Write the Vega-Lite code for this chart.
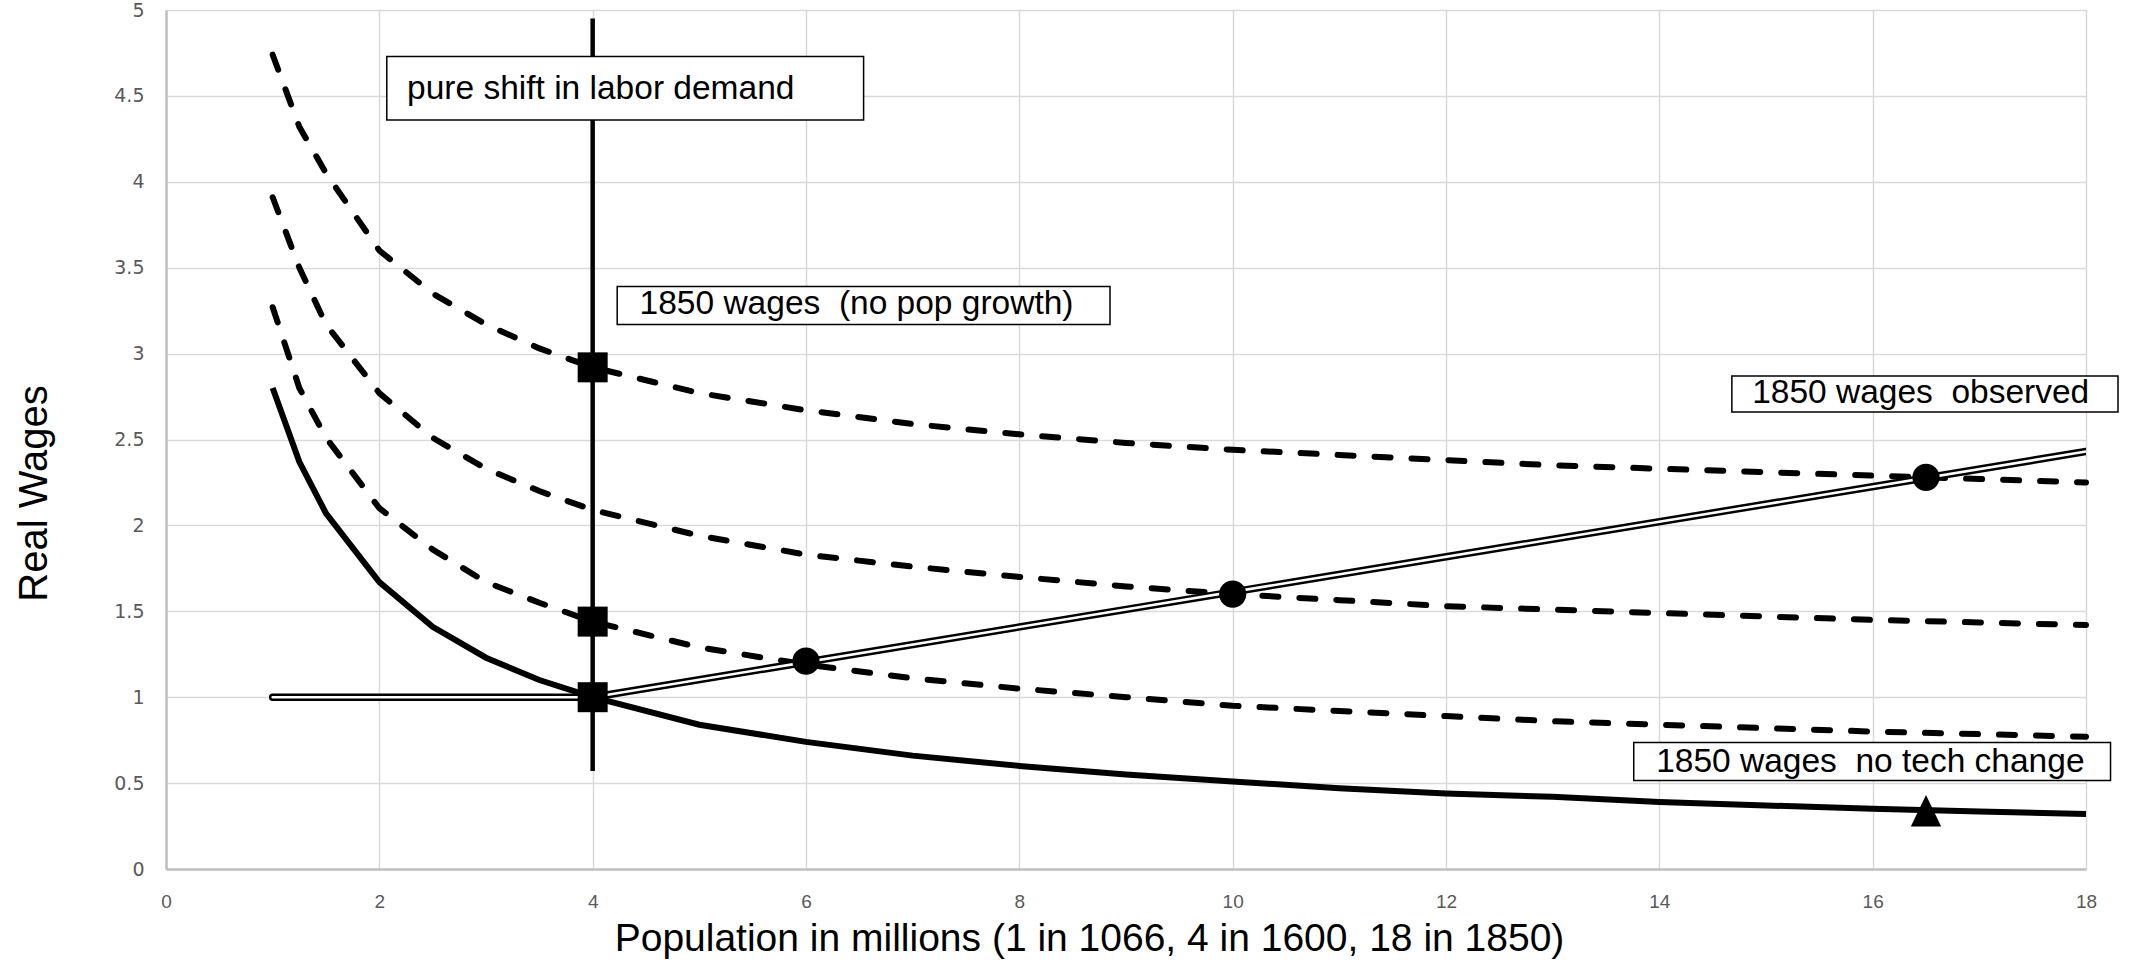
{
  "$schema": "https://vega.github.io/schema/vega-lite/v6.json",
  "width": 1920,
  "height": 859,
  "autosize": {"type": "none"},
  "padding": {"left": 166, "top": 10, "right": 45, "bottom": 91},
  "background": "white",
  "config": {"view": {"stroke": null}},
  "encoding": {
    "x": {
      "field": "x", "type": "quantitative",
      "scale": {"domain": [0, 18], "nice": false, "zero": false},
      "axis": {
        "values": [0, 2, 4, 6, 8, 10, 12, 14, 16, 18],
        "format": "~g",
        "grid": true, "gridColor": "#d9d9d9", "gridWidth": 1.5,
        "domainColor": "#bfbfbf", "domainWidth": 2.5,
        "ticks": false, "labelFlush": false,
        "labelFont": "Liberation Sans Narrow, Liberation Sans", "labelFontSize": 19, "labelColor": "#595959", "labelPadding": 23,
        "title": "Population in millions (1 in 1066, 4 in 1600, 18 in 1850)",
        "titleFont": "Liberation Sans", "titleFontSize": 39, "titleFontWeight": "normal", "titleColor": "#000000",
        "titleX": 923, "titleY": 69, "titleBaseline": "middle", "titleAlign": "center"
      }
    },
    "y": {
      "field": "y", "type": "quantitative",
      "scale": {"domain": [0, 5], "nice": false, "zero": false},
      "axis": {
        "values": [0, 0.5, 1, 1.5, 2, 2.5, 3, 3.5, 4, 4.5, 5],
        "format": "~g",
        "grid": true, "gridColor": "#d9d9d9", "gridWidth": 1.5,
        "domainColor": "#bfbfbf", "domainWidth": 2.5,
        "ticks": false, "labelFlush": false,
        "labelFont": "DejaVu Sans", "labelFontSize": 19, "labelColor": "#595959", "labelPadding": 22,
        "title": "Real Wages",
        "titleFont": "Liberation Sans", "titleFontSize": 40, "titleFontWeight": "normal", "titleColor": "#000000",
        "titleX": -132, "titleY": 483, "titleBaseline": "middle", "titleAlign": "center", "titleAngle": -90
      }
    }
  },
  "layer": [
    {
      "data": {"values": [
        {"s": "top", "x": 1, "y": 4.74}, {"s": "top", "x": 1.25, "y": 4.32}, {"s": "top", "x": 1.5, "y": 4.05}, {"s": "top", "x": 2, "y": 3.6}, {"s": "top", "x": 2.5, "y": 3.35}, {"s": "top", "x": 3, "y": 3.17}, {"s": "top", "x": 3.5, "y": 3.03}, {"s": "top", "x": 4, "y": 2.92}, {"s": "top", "x": 5, "y": 2.77}, {"s": "top", "x": 6, "y": 2.67}, {"s": "top", "x": 7, "y": 2.59}, {"s": "top", "x": 8, "y": 2.53}, {"s": "top", "x": 9, "y": 2.48}, {"s": "top", "x": 10, "y": 2.44}, {"s": "top", "x": 11, "y": 2.41}, {"s": "top", "x": 12, "y": 2.38}, {"s": "top", "x": 13, "y": 2.35}, {"s": "top", "x": 14, "y": 2.33}, {"s": "top", "x": 15, "y": 2.31}, {"s": "top", "x": 16, "y": 2.29}, {"s": "top", "x": 17, "y": 2.27}, {"s": "top", "x": 18, "y": 2.25},
        {"s": "mid", "x": 1, "y": 3.91}, {"s": "mid", "x": 1.25, "y": 3.5}, {"s": "mid", "x": 1.5, "y": 3.17}, {"s": "mid", "x": 2, "y": 2.77}, {"s": "mid", "x": 2.5, "y": 2.51}, {"s": "mid", "x": 3, "y": 2.33}, {"s": "mid", "x": 3.5, "y": 2.2}, {"s": "mid", "x": 4, "y": 2.09}, {"s": "mid", "x": 5, "y": 1.94}, {"s": "mid", "x": 6, "y": 1.83}, {"s": "mid", "x": 7, "y": 1.76}, {"s": "mid", "x": 8, "y": 1.7}, {"s": "mid", "x": 9, "y": 1.645}, {"s": "mid", "x": 10, "y": 1.6}, {"s": "mid", "x": 11, "y": 1.565}, {"s": "mid", "x": 12, "y": 1.53}, {"s": "mid", "x": 13, "y": 1.51}, {"s": "mid", "x": 14, "y": 1.49}, {"s": "mid", "x": 15, "y": 1.47}, {"s": "mid", "x": 16, "y": 1.45}, {"s": "mid", "x": 17, "y": 1.435}, {"s": "mid", "x": 18, "y": 1.42},
        {"s": "low", "x": 1, "y": 3.27}, {"s": "low", "x": 1.25, "y": 2.8}, {"s": "low", "x": 1.5, "y": 2.51}, {"s": "low", "x": 2, "y": 2.1}, {"s": "low", "x": 2.5, "y": 1.86}, {"s": "low", "x": 3, "y": 1.67}, {"s": "low", "x": 3.5, "y": 1.55}, {"s": "low", "x": 4, "y": 1.44}, {"s": "low", "x": 5, "y": 1.29}, {"s": "low", "x": 6, "y": 1.19}, {"s": "low", "x": 7, "y": 1.11}, {"s": "low", "x": 8, "y": 1.05}, {"s": "low", "x": 9, "y": 1.0}, {"s": "low", "x": 10, "y": 0.95}, {"s": "low", "x": 11, "y": 0.92}, {"s": "low", "x": 12, "y": 0.89}, {"s": "low", "x": 13, "y": 0.86}, {"s": "low", "x": 14, "y": 0.84}, {"s": "low", "x": 15, "y": 0.82}, {"s": "low", "x": 16, "y": 0.8}, {"s": "low", "x": 17, "y": 0.785}, {"s": "low", "x": 18, "y": 0.77}
      ]},
      "mark": {"type": "line", "color": "#000000", "strokeWidth": 6, "strokeDash": [16, 21], "strokeCap": "round"},
      "encoding": {"detail": {"field": "s"}}
    },
    {
      "data": {"values": [
        {"x": 1, "y": 2.8}, {"x": 1.25, "y": 2.37}, {"x": 1.5, "y": 2.07}, {"x": 2, "y": 1.67}, {"x": 2.5, "y": 1.41}, {"x": 3, "y": 1.23}, {"x": 3.5, "y": 1.1}, {"x": 4, "y": 1.0}, {"x": 5, "y": 0.84}, {"x": 6, "y": 0.74}, {"x": 7, "y": 0.66}, {"x": 8, "y": 0.6}, {"x": 9, "y": 0.55}, {"x": 10, "y": 0.51}, {"x": 11, "y": 0.47}, {"x": 12, "y": 0.44}, {"x": 13, "y": 0.42}, {"x": 14, "y": 0.39}, {"x": 15, "y": 0.37}, {"x": 16, "y": 0.35}, {"x": 17, "y": 0.335}, {"x": 18, "y": 0.32}
      ]},
      "mark": {"type": "line", "color": "#000000", "strokeWidth": 6}
    },
    {
      "data": {"values": [{"x": 4, "y": 0.57, "y2": 4.95}]},
      "mark": {"type": "rule", "color": "#000000", "strokeWidth": 4.5},
      "encoding": {"y2": {"field": "y2"}}
    },
    {
      "data": {"values": [{"x": 1, "y": 1}, {"x": 4, "y": 1}, {"x": 18, "y": 2.43}]},
      "mark": {"type": "line", "color": "#000000", "strokeWidth": 7.5, "strokeCap": "round", "clip": true}
    },
    {
      "data": {"values": [{"x": 1, "y": 1}, {"x": 4, "y": 1}, {"x": 18, "y": 2.43}]},
      "mark": {"type": "line", "color": "#ffffff", "strokeWidth": 2.6, "strokeCap": "round", "clip": true}
    },
    {
      "data": {"values": [{"x": 4, "y": 2.92}, {"x": 4, "y": 1.44}, {"x": 4, "y": 1.0}]},
      "mark": {"type": "point", "shape": "square", "filled": true, "color": "#000000", "opacity": 1, "size": 900}
    },
    {
      "data": {"values": [{"x": 6, "y": 1.21}, {"x": 10, "y": 1.6}, {"x": 16.5, "y": 2.28}]},
      "mark": {"type": "point", "shape": "circle", "filled": true, "color": "#000000", "opacity": 1, "size": 740}
    },
    {
      "data": {"values": [{"x": 16.5, "y": 0.339}]},
      "mark": {"type": "point", "shape": "M0,-1L-0.96,1L0.96,1Z", "filled": true, "color": "#000000", "opacity": 1, "size": 1000}
    },
    {
      "data": {"values": [
        {"x": 2.07, "x2": 6.54, "y": 4.36, "y2": 4.73},
        {"x": 4.23, "x2": 8.85, "y": 3.17, "y2": 3.39},
        {"x": 14.68, "x2": 18.3, "y": 2.66, "y2": 2.87},
        {"x": 13.76, "x2": 18.23, "y": 0.515, "y2": 0.737}
      ]},
      "mark": {"type": "rect", "fill": "#ffffff", "stroke": "#000000", "strokeWidth": 1.5},
      "encoding": {"x2": {"field": "x2"}, "y2": {"field": "y2"}}
    },
    {
      "data": {"values": [
        {"x": 2.26, "y": 4.54, "label": "pure shift in labor demand"},
        {"x": 4.44, "y": 3.29, "label": "1850 wages\u00a0 (no pop growth)"},
        {"x": 14.87, "y": 2.77, "label": "1850 wages\u00a0 observed"},
        {"x": 13.97, "y": 0.62, "label": "1850 wages\u00a0 no tech change"}
      ]},
      "mark": {"type": "text", "align": "left", "baseline": "middle", "font": "Liberation Sans", "fontSize": 33.5, "color": "#000000"},
      "encoding": {"text": {"field": "label"}}
    }
  ]
}
